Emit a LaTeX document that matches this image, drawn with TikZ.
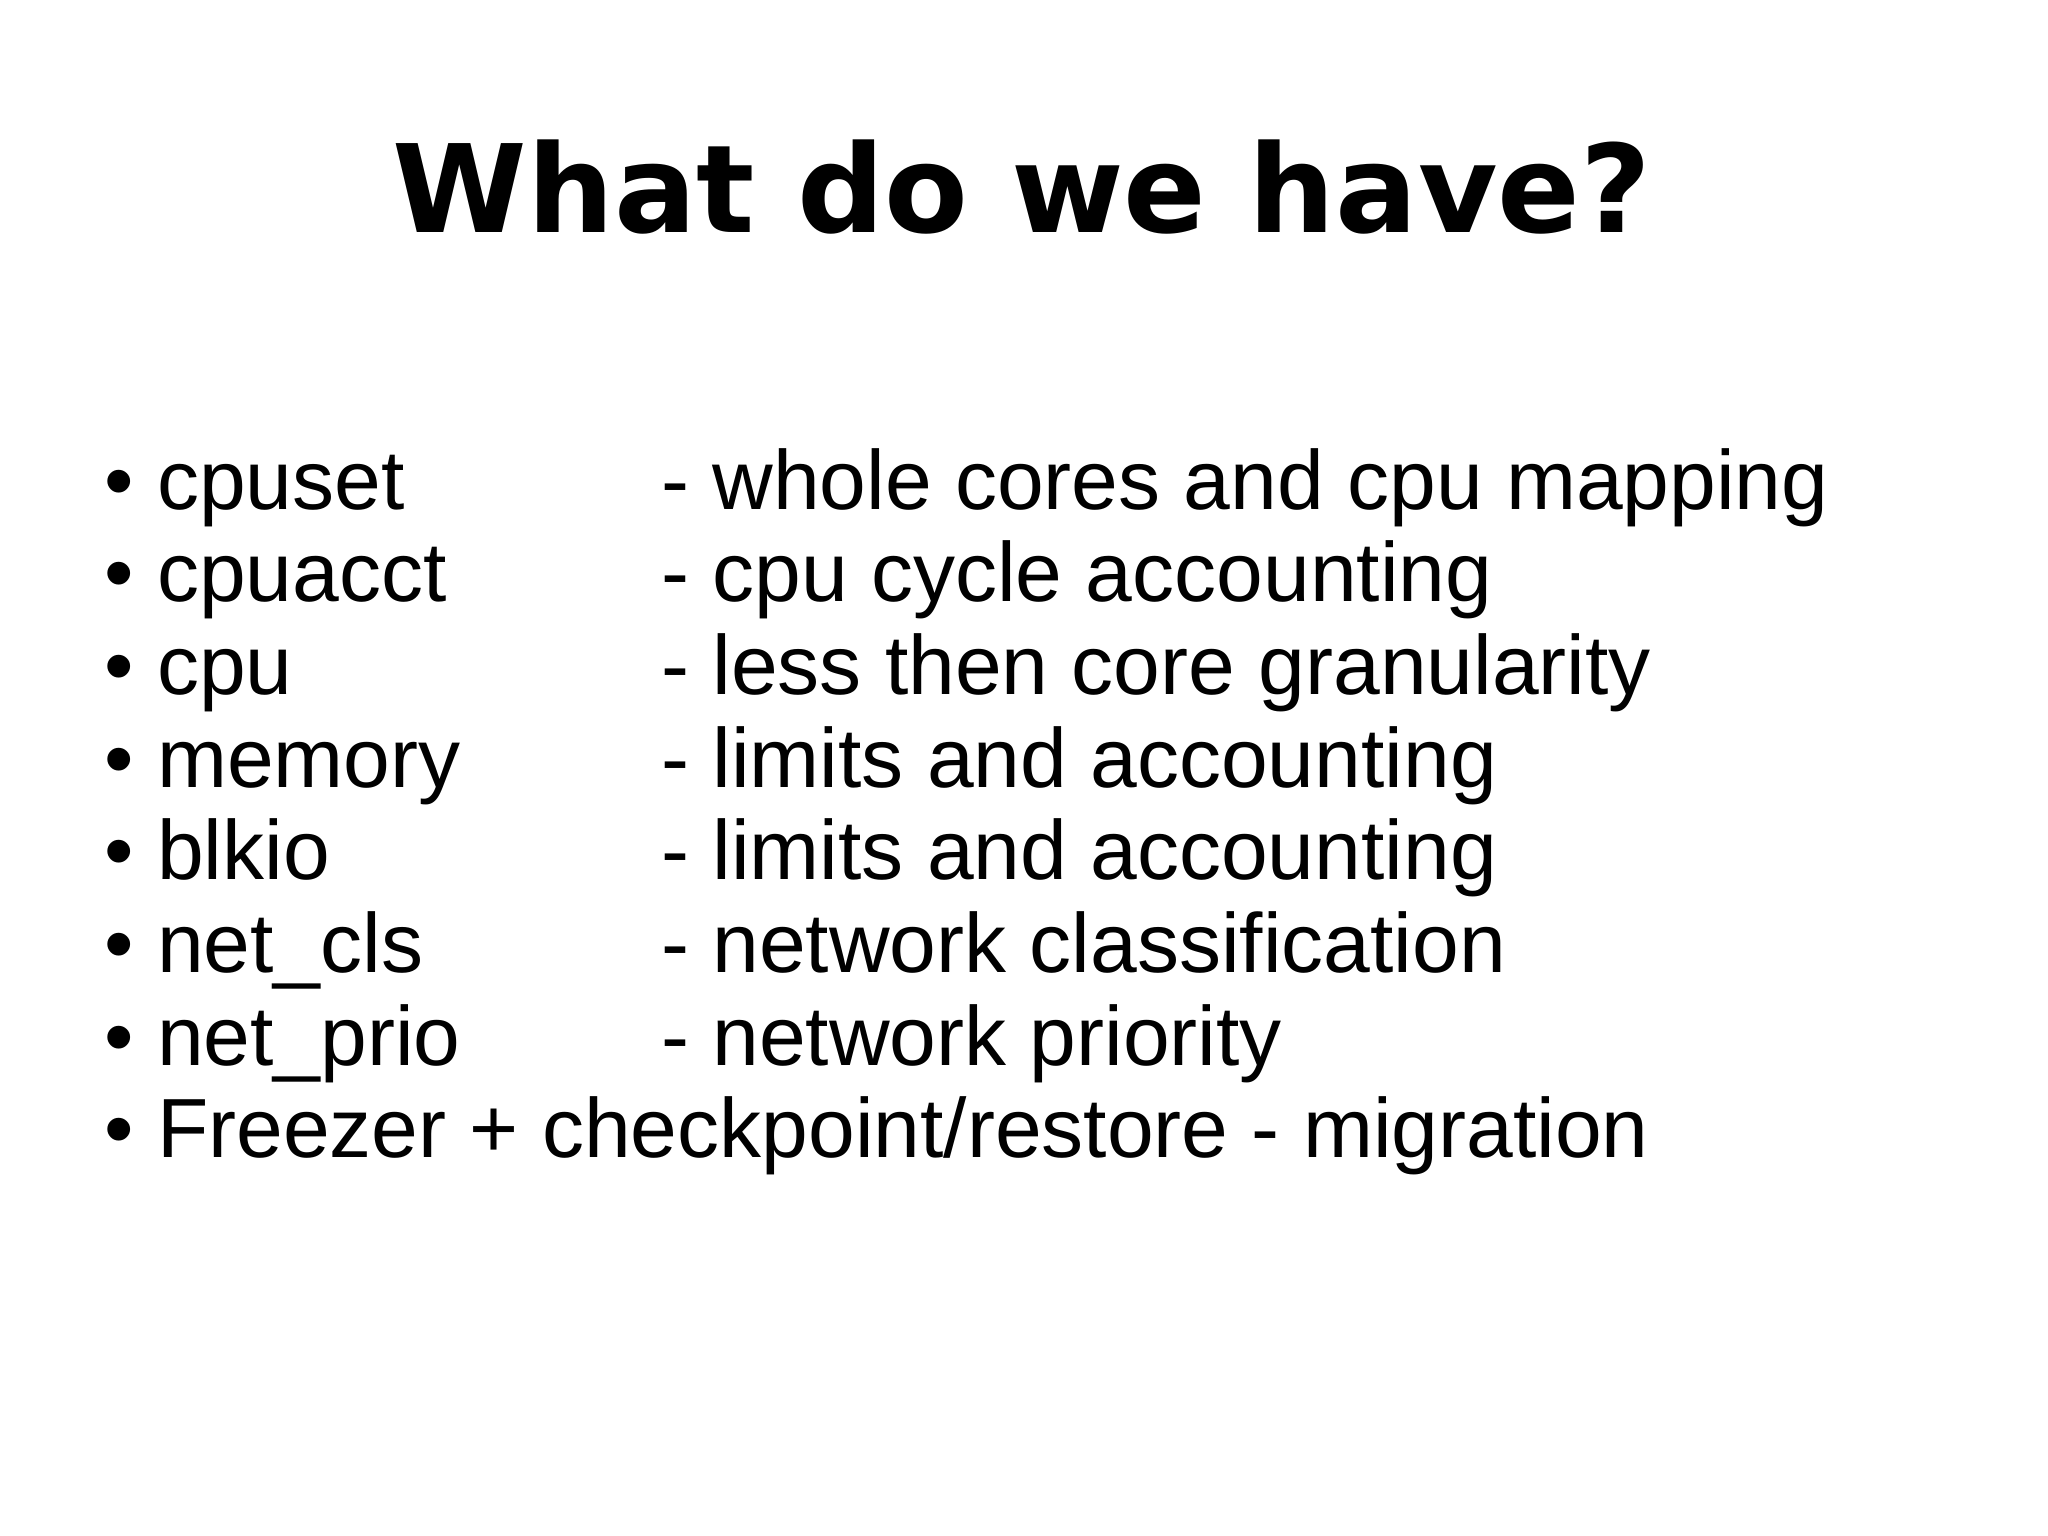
\documentclass[tikz,border=0pt]{standalone}
\usepackage{fontspec}
\setmainfont{Liberation Sans}
\newfontfamily\titlefont{DejaVu Sans}
\begin{document}
\begin{tikzpicture}[x=1pt,y=-1pt,
  item/.style={anchor=base west,inner sep=0pt,font=\fontsize{84}{90}\selectfont},
  ttl/.style={anchor=base,inner sep=0pt,font=\titlefont\bfseries\fontsize{122}{130}\selectfont}]
\useasboundingbox[fill=white] (0,0) rectangle (2048,1535);
\node[ttl] (title) at (1022,232) {What do we have?};
\foreach \i/\a/\b in {0/cpuset/whole cores and cpu mapping,1/cpuacct/cpu cycle accounting,2/cpu/less then core granularity,3/memory/limits and accounting,4/blkio/limits and accounting,5/net\_cls/network classification,6/net\_prio/network priority}{
  \node[item] (bul\i) at (104,509+92.7*\i) {•};
  \node[item] (name\i) at (157,509+92.7*\i) {\a};
  \node[item] (desc\i) at (661,509+92.7*\i) {- \b};
}
\node[item] (bul7) at (104,509+92.7*7) {•};
\node[item] (name7) at (157,509+92.7*7) {Freezer + checkpoint/restore - migration};
\end{tikzpicture}
\end{document}
